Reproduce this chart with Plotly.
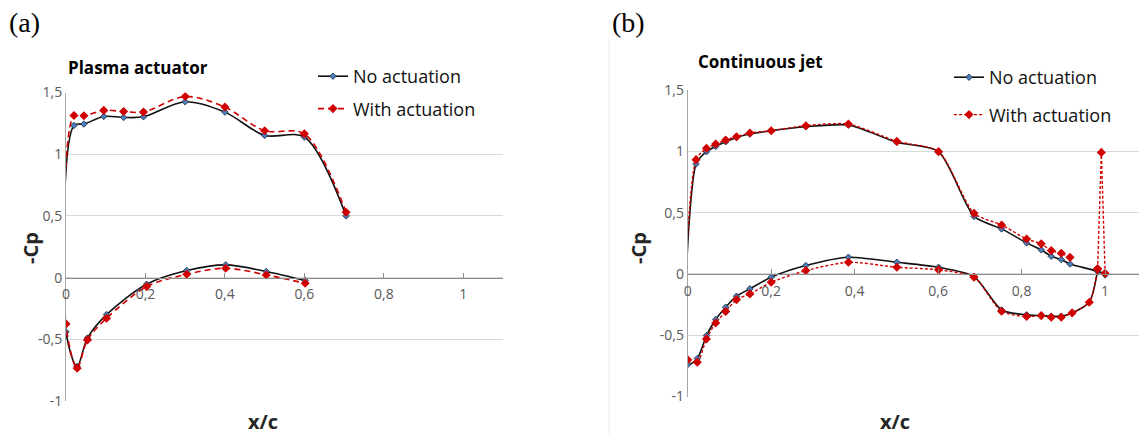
import plotly.graph_objects as go

# ---------------- Panel (a): Plasma actuator ----------------
a_x_upper = [0.02, 0.045, 0.095, 0.145, 0.195, 0.30, 0.40, 0.50, 0.60, 0.705]
a_cp_upper_no = [1.233, 1.244, 1.306, 1.298, 1.303, 1.425, 1.341, 1.152, 1.139, 0.50]
a_cp_upper_with = [1.314, 1.311, 1.355, 1.346, 1.341, 1.468, 1.382, 1.190, 1.165, 0.53]
a_x_le = [0.0]
a_cp_le_no = [-0.44]
a_cp_le_with = [-0.375]
a_x_lower = [0.028, 0.054, 0.102, 0.203, 0.304, 0.402, 0.504, 0.602]
a_cp_lower_no = [-0.72, -0.49, -0.30, -0.054, 0.057, 0.103, 0.049, -0.024]
a_cp_lower_with = [-0.735, -0.505, -0.33, -0.073, 0.027, 0.076, 0.022, -0.046]

# ---------------- Panel (b): Continuous jet ----------------
b_x_upper_no = [0.02, 0.045, 0.067, 0.091, 0.117, 0.149, 0.20, 0.283, 0.385, 0.501, 0.601,
                0.686, 0.752, 0.812, 0.847, 0.871, 0.895, 0.916, 0.982, 1.0]
b_cp_upper_no = [0.897, 0.997, 1.04, 1.078, 1.113, 1.141, 1.168, 1.20, 1.214, 1.073, 0.997,
                 0.469, 0.367, 0.253, 0.196, 0.144, 0.117, 0.081, 0.021, -0.008]
b_x_upper_with = [0.02, 0.045, 0.067, 0.091, 0.117, 0.149, 0.20, 0.283, 0.385, 0.501, 0.601,
                  0.686, 0.752, 0.812, 0.847, 0.871, 0.895, 0.916]
b_cp_upper_with = [0.932, 1.024, 1.06, 1.092, 1.119, 1.149, 1.168, 1.209, 1.222, 1.081, 0.997,
                   0.494, 0.399, 0.285, 0.245, 0.19, 0.168, 0.135]
b_x_le = [0.0]
b_cp_le_no = [-0.74]
b_cp_le_with = [-0.70]
b_x_lower = [0.023, 0.045, 0.067, 0.091, 0.117, 0.149, 0.20, 0.283, 0.385, 0.501, 0.601,
             0.686, 0.752, 0.812, 0.847, 0.871, 0.895, 0.921, 0.962, 0.982]
b_cp_lower_no = [-0.69, -0.503, -0.372, -0.272, -0.182, -0.122, -0.027, 0.068, 0.136, 0.095, 0.054,
                 -0.022, -0.294, -0.334, -0.34, -0.345, -0.345, -0.318, -0.231, 0.027]
b_cp_lower_with = [-0.72, -0.53, -0.40, -0.307, -0.21, -0.163, -0.068, 0.027, 0.095, 0.054, 0.033,
                   -0.027, -0.305, -0.348, -0.34, -0.353, -0.353, -0.318, -0.231, 0.041]
b_x_jet = [0.982, 0.991, 1.0]
b_cp_jet_with = [0.041, 0.991, 0.005]

# ---------------- Axis labels / texts ----------------
x_tickvals = [0, 0.2, 0.4, 0.6, 0.8, 1.0]
x_ticktext = ["0", "0,2", "0,4", "0,6", "0,8", "1"]
y_tickvals = [-1, -0.5, 0, 0.5, 1, 1.5]
y_ticktext = ["-1", "-0,5", "0", "0,5", "1", "1,5"]
series_names = ["No actuation", "With actuation"]
panel_titles = ["Plasma actuator", "Continuous jet"]
panel_labels = ["(a)", "(b)"]

W, H = 1139, 434
BLACK = "#111111"
RED = "#d00000"
BLUE_FILL = "#4a7ebb"
FONT = "Open Sans"


def loop(x_up, y_up, x_le, y_le, x_lo, y_lo):
    xs = list(reversed(x_up)) + list(x_le) + list(x_lo)
    ys = list(reversed(y_up)) + list(y_le) + list(y_lo)
    return xs, ys


fig = go.Figure()

# Panel (a)
xa_no, ya_no = loop(a_x_upper, a_cp_upper_no, a_x_le, a_cp_le_no, a_x_lower, a_cp_lower_no)
xa_w, ya_w = loop(a_x_upper, a_cp_upper_with, a_x_le, a_cp_le_with, a_x_lower, a_cp_lower_with)
fig.add_trace(go.Scatter(
    x=xa_no, y=ya_no, name=series_names[0], mode="lines+markers",
    line=dict(color=BLACK, width=1.6, shape="spline", smoothing=0.9),
    marker=dict(symbol="diamond", size=5, color=BLUE_FILL, line=dict(color="#1a2a40", width=0.8)),
    xaxis="x", yaxis="y", legend="legend", legendgroup="no"))
fig.add_trace(go.Scatter(
    x=xa_w, y=ya_w, name=series_names[1], mode="lines+markers",
    line=dict(color=RED, width=1.6, dash="6px,4px", shape="spline", smoothing=0.9),
    marker=dict(symbol="diamond", size=7, color=RED),
    xaxis="x", yaxis="y", legend="legend", legendgroup="with"))

# Panel (b)
xb_no, yb_no = loop(b_x_upper_no, b_cp_upper_no, b_x_le, b_cp_le_no, b_x_lower, b_cp_lower_no)
xb_w, yb_w = loop(b_x_upper_with, b_cp_upper_with, b_x_le, b_cp_le_with, b_x_lower, b_cp_lower_with)
fig.add_trace(go.Scatter(
    x=xb_no, y=yb_no, name=series_names[0], mode="lines+markers",
    line=dict(color=BLACK, width=1.6, shape="spline", smoothing=0.7),
    marker=dict(symbol="diamond", size=5, color=BLUE_FILL, line=dict(color="#1a2a40", width=0.8)),
    xaxis="x2", yaxis="y2", legend="legend2", legendgroup="no2"))
fig.add_trace(go.Scatter(
    x=xb_w, y=yb_w, name=series_names[1], mode="lines+markers",
    line=dict(color=RED, width=1.4, dash="3px,2px", shape="spline", smoothing=0.7),
    marker=dict(symbol="diamond", size=7, color=RED),
    xaxis="x2", yaxis="y2", legend="legend2", legendgroup="with2"))
fig.add_trace(go.Scatter(
    x=b_x_jet, y=b_cp_jet_with, name=series_names[1], mode="lines+markers",
    line=dict(color=RED, width=1.4, dash="3px,2px"),
    marker=dict(symbol="diamond", size=7, color=RED),
    xaxis="x2", yaxis="y2", legend="legend2", legendgroup="with2", showlegend=False))

# Geometry of plot areas (pixels -> paper)
def px_x(p):
    return p / W

def px_y(p):
    return 1 - p / H

a_dom_x = [px_x(66), px_x(503)]
a_dom_y = [px_y(401), px_y(92.5)]
b_dom_x = [px_x(687.7), px_x(1138.5)]
b_dom_y = [px_y(396.5), px_y(90)]

ymin, ymax = -1, 1.5


def xaxis_cfg(dom, ydom, rng):
    pos = ydom[0] + (0 - ymin) / (ymax - ymin) * (ydom[1] - ydom[0])
    return dict(domain=dom, range=rng, anchor="free", position=pos, automargin=False,
                tickvals=x_tickvals, ticktext=x_ticktext,
                showgrid=False, zeroline=False, showline=True, linecolor="#8c8c8c", linewidth=1,
                ticks="inside", ticklen=5, tickcolor="#8c8c8c", ticklabelstandoff=4,
                tickfont=dict(family=FONT, size=14, color="#595959"), fixedrange=True)


def yaxis_cfg(dom, anchor):
    return dict(domain=dom, range=[ymin, ymax], anchor=anchor, automargin=False,
                tickvals=y_tickvals, ticktext=y_ticktext,
                showgrid=True, gridcolor="#d9d9d9", gridwidth=1, zeroline=False,
                showline=True, linecolor="#a6a6a6", linewidth=1, ticks="",
                tickfont=dict(family=FONT, size=14, color="#595959"), fixedrange=True)


fig.update_layout(
    template="none",
    width=W, height=H, autosize=False,
    margin=dict(l=0, r=0, t=0, b=0, pad=0, autoexpand=False),
    paper_bgcolor="white", plot_bgcolor="white",
    xaxis=xaxis_cfg(a_dom_x, a_dom_y, [0, 1.1]),
    yaxis=yaxis_cfg(a_dom_y, "x"),
    xaxis2=xaxis_cfg(b_dom_x, b_dom_y, [0, 1.08]),
    yaxis2=yaxis_cfg(b_dom_y, "x2"),
    legend=dict(x=px_x(313), y=px_y(58), xanchor="left", yanchor="top",
                bgcolor="rgba(0,0,0,0)", borderwidth=0, tracegroupgap=6, itemwidth=30,
                font=dict(family=FONT, size=18, color="#111111")),
    legend2=dict(x=px_x(949), y=px_y(59), xanchor="left", yanchor="top",
                 bgcolor="rgba(0,0,0,0)", borderwidth=0, tracegroupgap=11, itemwidth=30,
                 font=dict(family=FONT, size=18, color="#111111")),
    showlegend=True,
)

ann = []
# panel labels
ann.append(dict(text=panel_labels[0], x=px_x(7), y=px_y(22), xanchor="left", yanchor="middle",
                font=dict(family="Liberation Serif", size=28, color="black")))
ann.append(dict(text=panel_labels[1], x=px_x(610), y=px_y(22), xanchor="left", yanchor="middle",
                font=dict(family="Liberation Serif", size=28, color="black")))
# panel titles
ann.append(dict(text="<b>%s</b>" % panel_titles[0], x=px_x(66), y=px_y(67), xanchor="left", yanchor="middle",
                font=dict(family=FONT, size=17, color="black")))
ann.append(dict(text="<b>%s</b>" % panel_titles[1], x=px_x(696), y=px_y(62), xanchor="left", yanchor="middle",
                font=dict(family=FONT, size=17, color="black")))
# axis titles
for cx in (30, 638):
    ann.append(dict(text="<b>-Cp</b>", x=px_x(cx), y=px_y(248), xanchor="center", yanchor="middle",
                    textangle=-90, font=dict(family=FONT, size=20, color="#262626")))
for cx in (263, 895):
    ann.append(dict(text="<b>x/c</b>", x=px_x(cx), y=px_y(421), xanchor="center", yanchor="middle",
                    font=dict(family=FONT, size=20, color="#262626")))
for a in ann:
    a.update(xref="paper", yref="paper", showarrow=False)
fig.update_layout(annotations=ann)

# faint border of the second image
fig.add_shape(type="line", xref="paper", yref="paper", x0=px_x(609), x1=px_x(609),
              y0=px_y(40), y1=0, line=dict(color="#ececec", width=1))

fig.write_html("out.html", config={"displayModeBar": False},
               post_script="document.body.style.margin='0';document.body.style.overflow='hidden';")
